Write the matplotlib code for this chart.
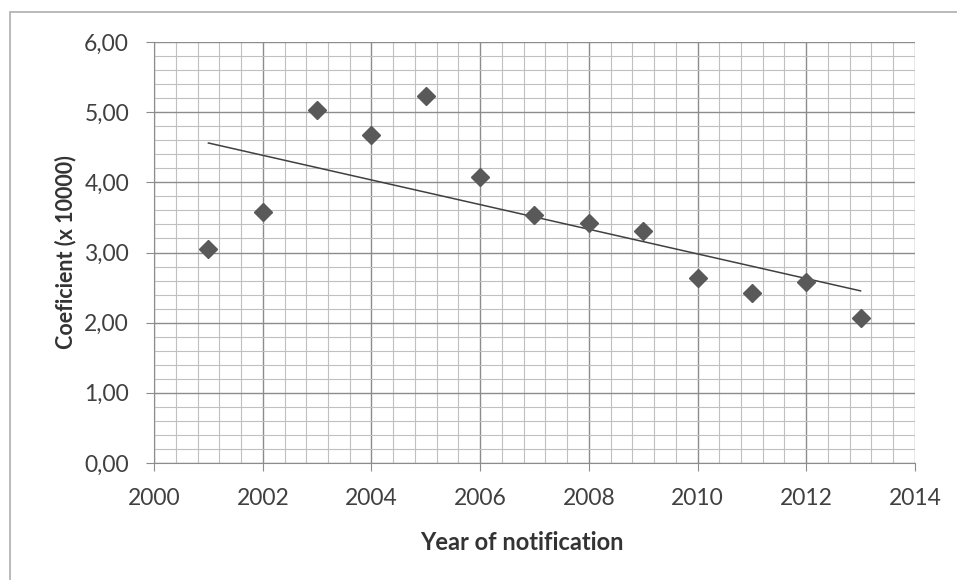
import numpy as np
import matplotlib.pyplot as plt
from matplotlib.patches import Rectangle
from matplotlib.ticker import MultipleLocator, FuncFormatter

years = [2001, 2002, 2003, 2004, 2005, 2006, 2007, 2008, 2009, 2010, 2011, 2012, 2013]
coef = [3.05, 3.58, 5.03, 4.67, 5.23, 4.07, 3.53, 3.42, 3.31, 2.64, 2.42, 2.58, 2.06]

plt.rcParams["font.family"] = ["Lato", "DejaVu Sans"]

fig = plt.figure(figsize=(9.57, 5.8), dpi=100)
ax = fig.add_axes([0.161, 0.2017, 0.795, 0.7259])

# outer chart border (only left/top visible in the crop)
fig.patches.append(Rectangle((10 / 957, -0.1), 1.2, 1 - 12 / 580 + 0.1,
                             transform=fig.transFigure, fill=False,
                             edgecolor="#b4b4b4", linewidth=1.3))

# linear trend line
slope, icpt = np.polyfit(years, coef, 1)
tx = np.array([years[0], years[-1]])
ax.plot(tx, slope * tx + icpt, color="#404040", linewidth=1.1, zorder=3)

ax.plot(years, coef, linestyle="none", marker="D", markersize=9,
        color="#595959", zorder=4)

ax.set_xlim(2000, 2014)
ax.set_ylim(0, 6)
ax.xaxis.set_major_locator(MultipleLocator(2))
ax.xaxis.set_minor_locator(MultipleLocator(0.4))
ax.yaxis.set_major_locator(MultipleLocator(1))
ax.yaxis.set_minor_locator(MultipleLocator(0.2))
ax.yaxis.set_major_formatter(FuncFormatter(lambda v, p: f"{v:.2f}".replace(".", ",")))

ax.grid(True, which="major", color="#8c8c8c", linewidth=1.0)
ax.grid(True, which="minor", color="#c0c0c0", linewidth=0.8)
ax.set_axisbelow(True)

for s in ["top", "right"]:
    ax.spines[s].set_visible(False)
for s in ["left", "bottom"]:
    ax.spines[s].set_color("#8c8c8c")

ax.tick_params(which="major", length=6, color="#8c8c8c", labelsize=16.5, labelcolor="#404040")
ax.tick_params(which="minor", length=0)
ax.tick_params(axis="x", pad=12)
ax.tick_params(axis="y", pad=12)

ax.set_xlabel("Year of notification", fontsize=17, fontweight="bold", color="#333333", va="center")
ax.set_ylabel("Coeficient (x 10000)", fontsize=15.5, fontweight="bold", color="#333333", va="center")
ax.xaxis.set_label_coords(0.484, -0.188)
ax.yaxis.set_label_coords(-0.117, 0.5)

fig.savefig("out.png", dpi=100)
